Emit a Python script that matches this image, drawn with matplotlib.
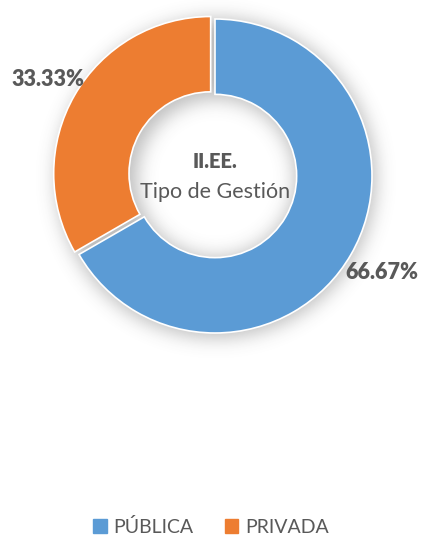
import matplotlib.pyplot as plt
import matplotlib.patches as mpatches
import numpy as np

plt.rcParams['font.family'] = ['Lato', 'DejaVu Sans']

categorias = ['PÚBLICA', 'PRIVADA']
porcentajes = [66.67, 33.33]
colores = ['#5B9BD5', '#ED7D31']
titulo_1 = 'II.EE.'
titulo_2 = 'Tipo de Gestión'

W, H = 422, 537
cx, cy = 215, 361      # centro del anillo (coordenadas de pixel, y hacia arriba)
R = 157                # radio exterior
ancho = 0.48           # grosor relativo del anillo
gris = '#595959'

fig = plt.figure(figsize=(W / 100, H / 100), dpi=100)
ax = fig.add_axes([0, 0, 1, 1])
ax.set_xlim(0, W)
ax.set_ylim(0, H)
ax.axis('off')


# sombra difusa alrededor del anillo
def sombra():
    yy, xx = np.mgrid[0:H, 0:W]
    r = np.hypot(xx + 0.5 - cx - 1, yy + 0.5 - cy + 2)
    masc = ((r <= R + 3) & (r >= R * (1 - ancho) - 3)).astype(float)
    s = 9.0
    k = np.arange(-35, 36)
    ker = np.exp(-k**2 / (2 * s**2))
    ker /= ker.sum()
    b = np.apply_along_axis(lambda v: np.convolve(v, ker, mode='same'), 0, masc)
    b = np.apply_along_axis(lambda v: np.convolve(v, ker, mode='same'), 1, b)
    img = np.zeros((H, W, 4))
    img[..., :3] = 0.3
    img[..., 3] = b * 0.36
    ax.imshow(img, extent=(0, W, 0, H), origin='lower', zorder=0, interpolation='bilinear')


sombra()

# el desplazamiento de explode va en unidades de datos (pixeles aqui)
wedges, _ = ax.pie(porcentajes, colors=colores, startangle=90, counterclock=False,
                   explode=[0, 5], center=(cx, cy), radius=R,
                   wedgeprops=dict(width=R * ancho, edgecolor='white', linewidth=1.2))
ax.set_xlim(0, W)
ax.set_ylim(0, H)

# etiquetas de porcentaje fuera del anillo
ang = 90
for p, w in zip(porcentajes, wedges):
    medio = np.deg2rad(ang - p / 100 * 360 / 2)
    ang -= p / 100 * 360
    ax.text(cx + 1.23 * R * np.cos(medio), cy + 1.23 * R * np.sin(medio), f'{p:.2f}%',
            ha='center', va='center', fontsize=15.5, fontweight='heavy', color=gris)

ax.text(cx, cy + 15, titulo_1, ha='center', va='center', fontsize=14.5,
        fontweight='heavy', color=gris)
ax.text(cx, cy - 16, titulo_2, ha='center', va='center', fontsize=15.5, color=gris)

handles = [mpatches.Patch(color=c, label=n) for c, n in zip(colores, categorias)]
fig.legend(handles=handles, loc='center', bbox_to_anchor=(0.5, 1 - 527 / H), ncol=2,
           frameon=False, fontsize=14, labelcolor=gris, handlelength=0.7,
           handleheight=0.7, handletextpad=0.35, columnspacing=1.6)

fig.savefig('out.png', dpi=100)
